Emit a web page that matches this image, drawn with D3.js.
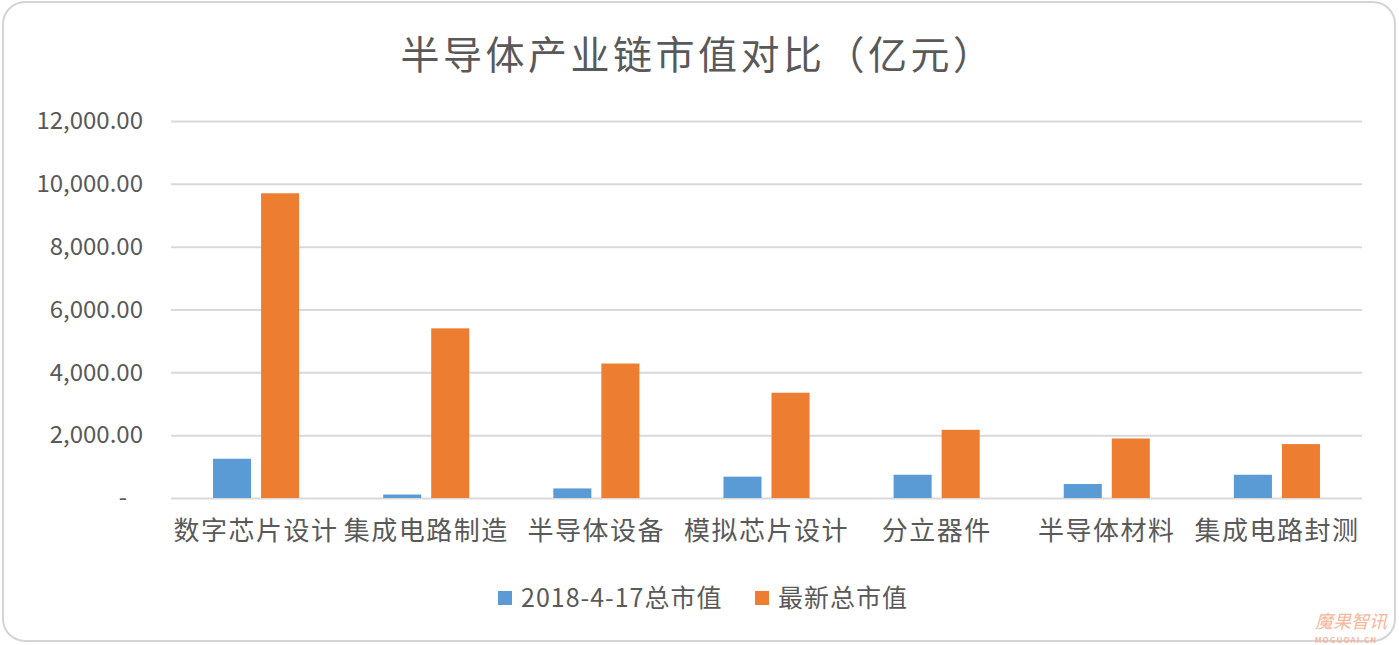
<!DOCTYPE html>
<html><head><meta charset="utf-8">
<script src="https://cdn.jsdelivr.net/npm/d3@7/dist/d3.min.js"></script>
<style>
html,body{margin:0;padding:0;background:#fff;}
svg{display:block;font-family:"Noto Sans CJK SC","Noto Sans",sans-serif;}
</style></head>
<body>
<svg id="chart" width="1399" height="645"></svg>
<script>
const categories = ["数字芯片设计","集成电路制造","半导体设备","模拟芯片设计","分立器件","半导体材料","集成电路封测"];
const seriesNames = ["2018-4-17总市值","最新总市值"];
const values2018 = [1250, 110, 305, 680, 740, 445, 740];
const valuesLatest = [9700, 5400, 4280, 3350, 2170, 1895, 1716];
const yTicks = [0, 2000, 4000, 6000, 8000, 10000, 12000];
const title = "半导体产业链市值对比（亿元）";

(function(){
const colors = ["#5B9BD5", "#ED7D31"];
const svg = d3.select("#chart");

// border
svg.append("rect").attr("x",3).attr("y",2).attr("width",1392).attr("height",639)
  .attr("rx",22).attr("fill","#fff").attr("stroke","#d4d4d4").attr("stroke-width",2);

const pL = 171, pR = 1362, pT = 121, pB = 498;
const y = d3.scaleLinear().domain([0,12000]).range([pB, pT]);
const x0 = d3.scaleBand().domain(categories).range([pL,pR]).paddingInner(0).paddingOuter(0);
const x1 = d3.scaleBand().domain(seriesNames).range([0, x0.bandwidth()]).paddingInner(0.208).paddingOuter(0.875);

// gridlines
const yAxis = d3.axisLeft(y).tickValues(yTicks).tickSize(-(pR-pL)).tickPadding(28)
  .tickFormat(d => d === 0 ? "-" : d3.format(",.2f")(d));
const gy = svg.append("g").attr("transform",`translate(${pL},0)`).call(yAxis);
gy.select(".domain").remove();
gy.selectAll(".tick line").attr("stroke","#d9d9d9").attr("stroke-width",2);
gy.selectAll(".tick text").attr("fill","#595959").attr("font-size",24)
  .attr("font-family","'Noto Sans CJK SC','Noto Sans',sans-serif");
gy.selectAll(".tick").filter(d => d === 0).select("text").attr("x",-44);

// bars
const data = categories.map((c,i)=>({c, vals:[values2018[i], valuesLatest[i]]}));
const groups = svg.append("g").selectAll("g").data(data).join("g")
  .attr("transform", d => `translate(${x0(d.c)},0)`);
groups.selectAll("rect").data(d => d.vals.map((v,j)=>({s:seriesNames[j], v, j}))).join("rect")
  .attr("x", d => x1(d.s)).attr("width", x1.bandwidth())
  .attr("y", d => y(d.v)).attr("height", d => y(0)-y(d.v))
  .attr("fill", d => colors[d.j]);

// x labels
const xAxis = d3.axisBottom(x0).tickSize(0).tickPadding(24);
const gx = svg.append("g").attr("transform",`translate(0,${pB})`).call(xAxis);
gx.select(".domain").remove();
gx.selectAll(".tick text").attr("fill","#595959").attr("font-size",26).attr("letter-spacing","1.5px")
  .attr("font-family","'Noto Sans CJK SC',sans-serif");

// title
svg.append("text").attr("x",698).attr("y",69).attr("text-anchor","middle")
  .attr("font-size",39).attr("fill","#595959").attr("letter-spacing","3.5px").text(title);

// legend
const legendX = [498, 755];
seriesNames.forEach((s,i)=>{
  svg.append("rect").attr("x",legendX[i]).attr("y",591).attr("width",14).attr("height",14).attr("fill",colors[i]);
  svg.append("text").attr("x",legendX[i]+23).attr("y",607).attr("font-size",25).attr("fill","#595959")
    .attr("letter-spacing","1px").text(s);
});

// watermark
svg.append("text").attr("x",1351).attr("y",628).attr("text-anchor","middle").attr("font-size",18)
  .attr("font-style","italic").attr("fill","#f5b79b").text("魔果智讯");
svg.append("text").attr("x",1346).attr("y",643).attr("text-anchor","middle").attr("font-size",8)
  .attr("font-weight","bold").attr("letter-spacing","1px").attr("fill","#f5b79b").text("MOGUOAI.CN");
})();
</script>
</body></html>
